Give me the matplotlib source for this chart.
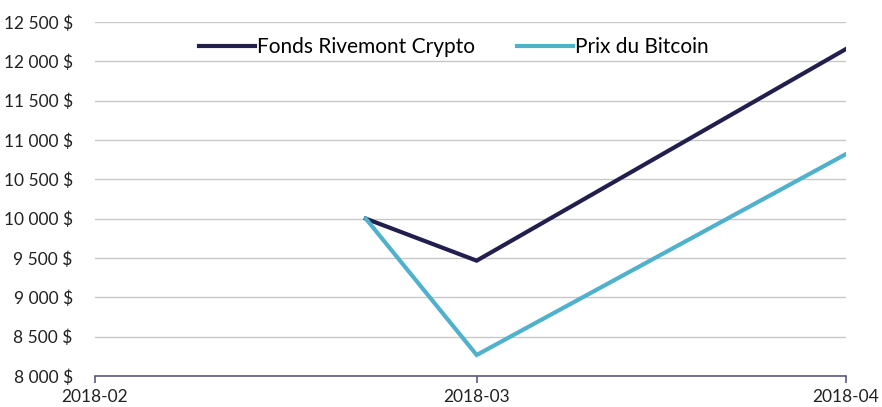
import numpy as np
import matplotlib
matplotlib.use("Agg")
import matplotlib.pyplot as plt
from matplotlib.ticker import FuncFormatter, MultipleLocator
from datetime import datetime

# data (month-end date axis)
dates = [datetime(2018, 3, 22), datetime(2018, 3, 31), datetime(2018, 4, 30)]
fonds = [10000, 9466, 12157]
bitcoin = [10000, 8267, 10821]
tick_dates = [datetime(2018, 2, 28), datetime(2018, 3, 31), datetime(2018, 4, 30)]
tick_labels = ["2018-02", "2018-03", "2018-04"]

plt.rcParams['font.family'] = ['Lato', 'DejaVu Sans']

fig = plt.figure(figsize=(8.82, 4.07), dpi=100)
ax = fig.add_axes([95/882, 1 - 376/407, (846 - 95)/882, (376 - 22)/407])

ax.plot(dates, fonds, color="#221f4f", lw=3, label="Fonds Rivemont Crypto", solid_joinstyle="miter")
ax.plot(dates, bitcoin, color="#4fb1cc", lw=3, label="Prix du Bitcoin", solid_joinstyle="miter")

ax.set_xlim(tick_dates[0], tick_dates[-1])
ax.set_ylim(8000, 12500)
ax.yaxis.set_major_locator(MultipleLocator(500))
ax.yaxis.set_major_formatter(FuncFormatter(lambda v, p: f"{int(v):,} $".replace(",", " ")))
ax.set_xticks(tick_dates)
ax.set_xticklabels(tick_labels)

ax.grid(axis="y", color="#c8c8c8", lw=1)
ax.set_axisbelow(True)
for s in ["top", "right", "left"]:
    ax.spines[s].set_visible(False)
ax.spines["bottom"].set_color("#5a5a7e")
ax.spines["bottom"].set_linewidth(1.2)
ax.tick_params(axis="y", length=0, pad=16, labelsize=12.5, labelcolor="#222222")
ax.tick_params(axis="x", length=5, color="#5a5a7e", width=1.2, pad=4, labelsize=12.5, labelcolor="#222222")

leg = ax.legend(loc="upper center", bbox_to_anchor=(0.478, 1.01), ncol=2, frameon=False,
                fontsize=15, handlelength=2.7, handletextpad=0.1, columnspacing=2.0)

fig.savefig("out.png", dpi=100)
